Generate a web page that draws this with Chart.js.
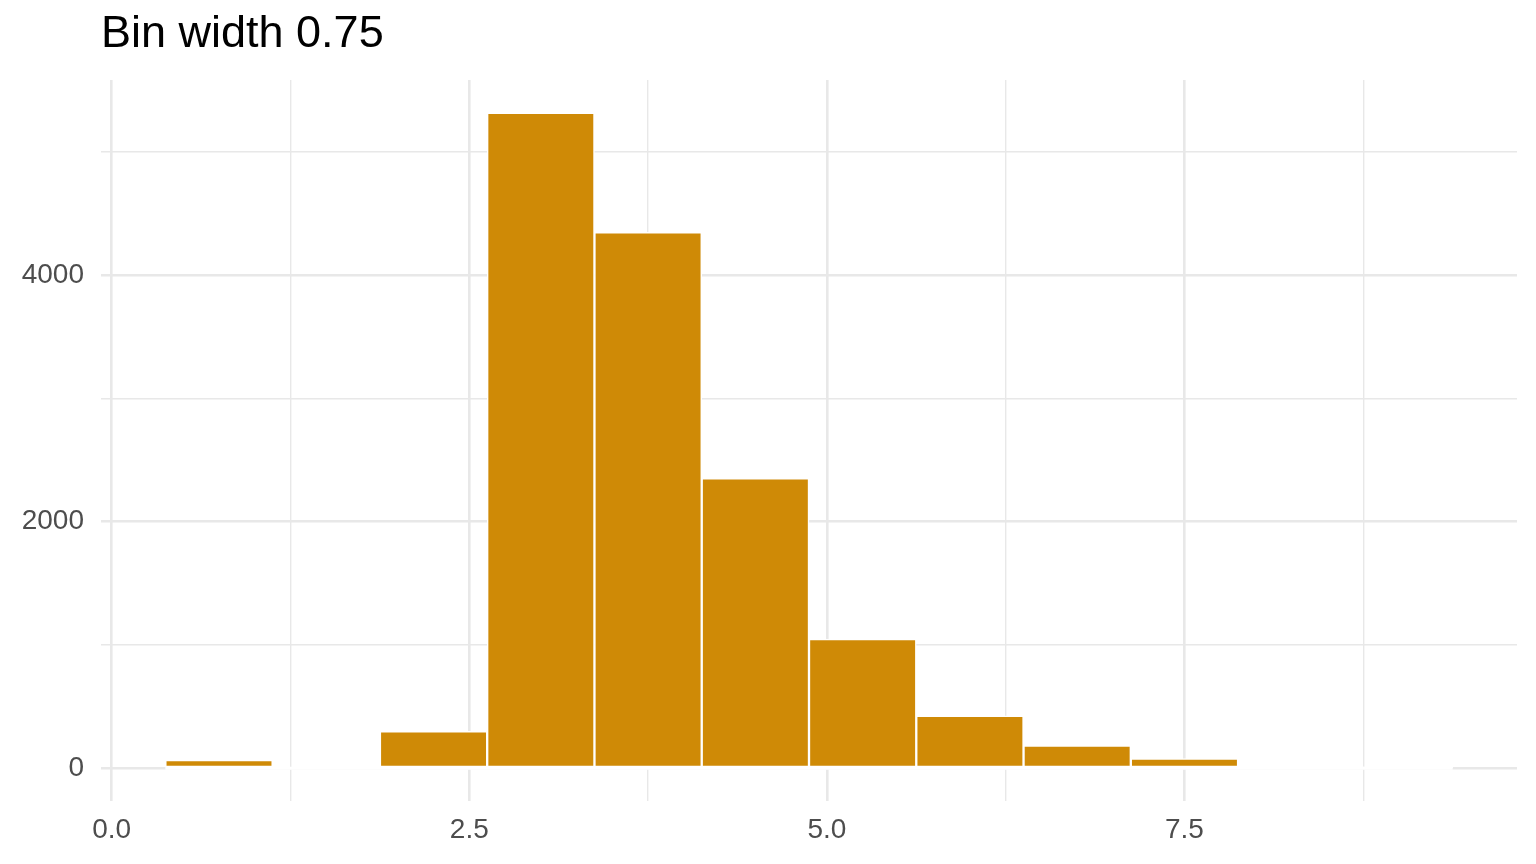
<!DOCTYPE html>
<html>
<head>
<meta charset="utf-8">
<script src="https://cdn.jsdelivr.net/npm/chart.js@4.4.1/dist/chart.umd.min.js"></script>
<style>
  html, body { margin: 0; padding: 0; background: #fff; }
  #wrap { width: 1536px; height: 864px; }
</style>
</head>
<body>
<div id="wrap"><canvas id="chart"></canvas></div>
<script>
// histogram bins, width 0.75
const binWidth = 0.75;
const binCenters = [0.75, 1.5, 2.25, 3.0, 3.75, 4.5, 5.25, 6.0, 6.75, 7.5, 8.25, 9.0];
const binCounts = [65, 0, 300, 5316, 4348, 2351, 1047, 424, 184, 79, 0, 1];

const xTicks = [0, 1.25, 2.5, 3.75, 5, 6.25, 7.5, 8.75];
const xMajor = [0, 2.5, 5, 7.5];
const yTicks = [0, 1000, 2000, 3000, 4000, 5000];
const yMajor = [0, 2000, 4000];

const gridColor = '#E8E8E8';
const barColor = '#CF8A06';

const data = binCenters.map((c, i) => ({ x: c, y: binCounts[i] }));

// ggplot draws a white outline on every bin, zero ones too, so the baseline gets hidden under them
const baseCover = {
  id: 'baseCover',
  afterDatasetsDraw(chart) {
    const xs = chart.scales.x, ys = chart.scales.y;
    const ctx = chart.ctx;
    const x0 = xs.getPixelForValue(binCenters[0] - binWidth / 2);
    const x1 = xs.getPixelForValue(binCenters[binCenters.length - 1] + binWidth / 2);
    const y0 = ys.getPixelForValue(0);
    ctx.save();
    ctx.strokeStyle = '#fff';
    ctx.lineWidth = 3;
    ctx.beginPath();
    ctx.moveTo(x0, y0);
    ctx.lineTo(x1, y0);
    ctx.stroke();
    ctx.restore();
  }
};

const ctx = document.getElementById('chart').getContext('2d');
new Chart(ctx, {
  type: 'bar',
  data: {
    datasets: [{
      data: data,
      backgroundColor: barColor,
      borderColor: '#ffffff',
      borderWidth: 1.5,
      borderSkipped: false,
      barPercentage: 1,
      categoryPercentage: 1
    }]
  },
  options: {
    responsive: true,
    maintainAspectRatio: false,
    devicePixelRatio: 1,
    animation: false,
    layout: { padding: { left: 0, right: 19, top: 0, bottom: 0 } },
    plugins: {
      legend: { display: false },
      tooltip: { enabled: false },
      title: {
        display: true,
        text: 'Bin width 0.75',
        align: 'start',
        fullSize: false,
        color: '#000',
        font: { family: 'Liberation Sans, Arial, sans-serif', size: 45, weight: 'normal' },
        padding: { top: 8, bottom: 18 }
      }
    },
    scales: {
      x: {
        type: 'linear',
        min: -0.075,
        max: 9.825,
        offset: false,
        afterBuildTicks: (s) => { s.ticks = xTicks.map(v => ({ value: v })); },
        afterFit: (s) => { s.height = 63; },
        border: { display: false },
        grid: {
          offset: false,
          color: gridColor,
          drawTicks: false,
          lineWidth: (c) => (c.tick && xMajor.includes(c.tick.value)) ? 2.6 : 1.4
        },
        ticks: {
          autoSkip: false,
          maxRotation: 0,
          padding: 12,
          color: '#4D4D4D',
          font: { family: 'Liberation Sans, Arial, sans-serif', size: 28 },
          callback: (v) => xMajor.includes(v) ? v.toFixed(1) : ''
        }
      },
      y: {
        min: -266,
        max: 5583,
        afterBuildTicks: (s) => { s.ticks = yTicks.map(v => ({ value: v })); },
        afterFit: (s) => { s.width = 101; },
        border: { display: false },
        grid: {
          color: gridColor,
          drawTicks: false,
          lineWidth: (c) => (c.tick && yMajor.includes(c.tick.value)) ? 2.6 : 1.4
        },
        ticks: {
          autoSkip: false,
          padding: 17,
          color: '#4D4D4D',
          font: { family: 'Liberation Sans, Arial, sans-serif', size: 28 },
          callback: (v) => yMajor.includes(v) ? String(v) : ''
        }
      }
    }
  },
  plugins: [baseCover]
});
</script>
</body>
</html>
